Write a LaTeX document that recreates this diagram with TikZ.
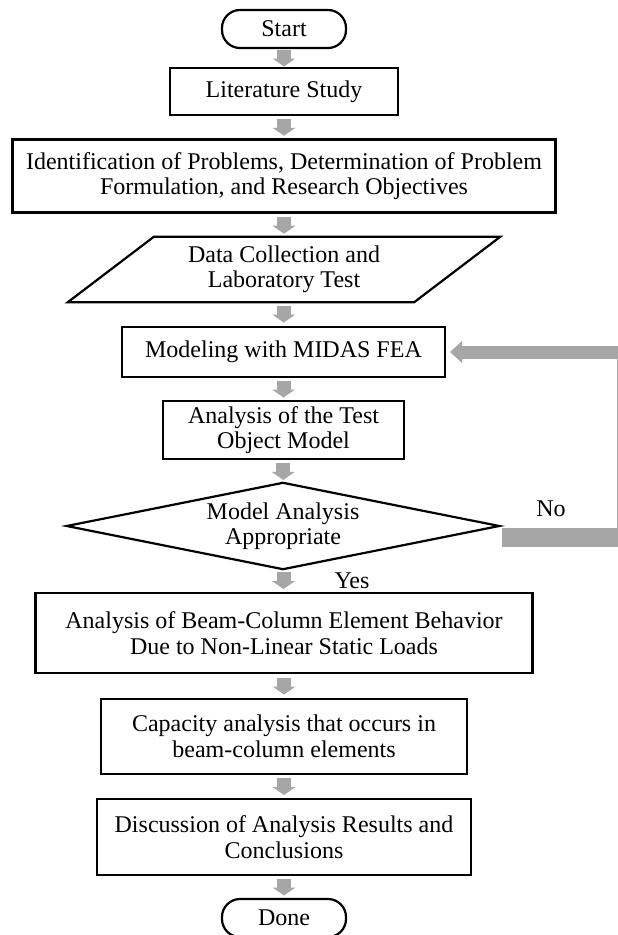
\documentclass[tikz,border=0pt]{standalone}
\usepackage{fontspec}
\setmainfont{Liberation Serif}
\usetikzlibrary{arrows.meta,calc}
\definecolor{ag}{HTML}{A6A6A6}
\newcommand\fsz{\fontsize{24bp}{25.5bp}\selectfont}
\tikzset{
  outline/.style={line width=2.2bp, line join=miter},
  box/.style={draw, outline, rectangle, align=center, inner sep=0pt, font=\fsz},
  term/.style={box, rounded corners=18bp},
  txt/.style={align=center, inner sep=0pt, font=\fsz},
  blk/.style={ag, line width=14bp, -{Triangle[width=23bp,length=8bp,line width=0pt]}},
  fbbar/.style={ag, line width=#1},
}
\newcommand\flowarrow[2]{%
  \path (#1.south) -- coordinate[midway] (m-#1) (#2.north);
  \draw[blk] ($(m-#1)+(0,8.5)$) -- ($(m-#1)+(0,-8.5)$);}
\begin{document}
\begin{tikzpicture}[x=1bp,y=1bp]
\fill[white] (0,0) rectangle (618,-935);
\useasboundingbox (0,0) rectangle (618,-935);
\node[term, minimum width=124bp, minimum height=38bp] (start) at (284,-29) {Start};
\node[box, minimum width=228bp, minimum height=47bp] (lit) at (284,-91.5) {Literature Study};
\node[box, minimum width=543bp, minimum height=73bp] (ident) at (284,-176) {Identification of Problems, Determination of Problem\\Formulation, and Research Objectives};
\node[txt, minimum width=346bp, minimum height=65bp] (data) at (284,-269.5) {Data Collection and\\Laboratory Test};
\draw[outline] ($(data.north west)+(43,0)$) -- ($(data.north east)+(43,0)$) -- ($(data.south east)+(-43,0)$) -- ($(data.south west)+(-43,0)$) -- cycle;
\node[box, minimum width=323bp, minimum height=50bp] (midas) at (283.5,-352) {Modeling with MIDAS FEA};
\node[box, minimum width=241bp, minimum height=58bp] (anal) at (283.5,-430) {Analysis of the Test\\Object Model};
\node[txt, minimum width=432bp, minimum height=86bp] (dia) at (283,-526) {Model Analysis\\Appropriate};
\draw[outline] (dia.north) -- (dia.east) -- (dia.south) -- (dia.west) -- cycle;
\node[txt] (yes) at (352,-581) {Yes};
\node[txt] (no) at (551,-509) {No};
\node[box, minimum width=497bp, minimum height=80bp] (beam) at (284,-633) {Analysis of Beam-Column Element Behavior\\Due to Non-Linear Static Loads};
\node[box, minimum width=366bp, minimum height=75bp] (cap) at (284,-736.5) {Capacity analysis that occurs in\\beam-column elements};
\node[box, minimum width=374bp, minimum height=76bp] (disc) at (284,-837) {Discussion of Analysis Results and\\Conclusions};
\node[term, minimum width=124bp, minimum height=38bp] (done) at (284,-918) {Done};
\flowarrow{start}{lit}
\flowarrow{lit}{ident}
\flowarrow{ident}{data}
\flowarrow{data}{midas}
\flowarrow{midas}{anal}
\flowarrow{anal}{dia}
\flowarrow{dia}{beam}
\flowarrow{beam}{cap}
\flowarrow{cap}{disc}
\flowarrow{disc}{done}
% feedback loop (No)
\coordinate (fbc) at (623,-537);
\draw[fbbar=19bp] ($(dia.east)+(3,-11)$) -- ($(fbc)+(12,0)$);
\draw[fbbar=13bp, -{Triangle[width=22bp,length=12bp,line width=0pt]}, shorten >=4bp] (fbc) |- (midas.east);
\end{tikzpicture}
\end{document}
